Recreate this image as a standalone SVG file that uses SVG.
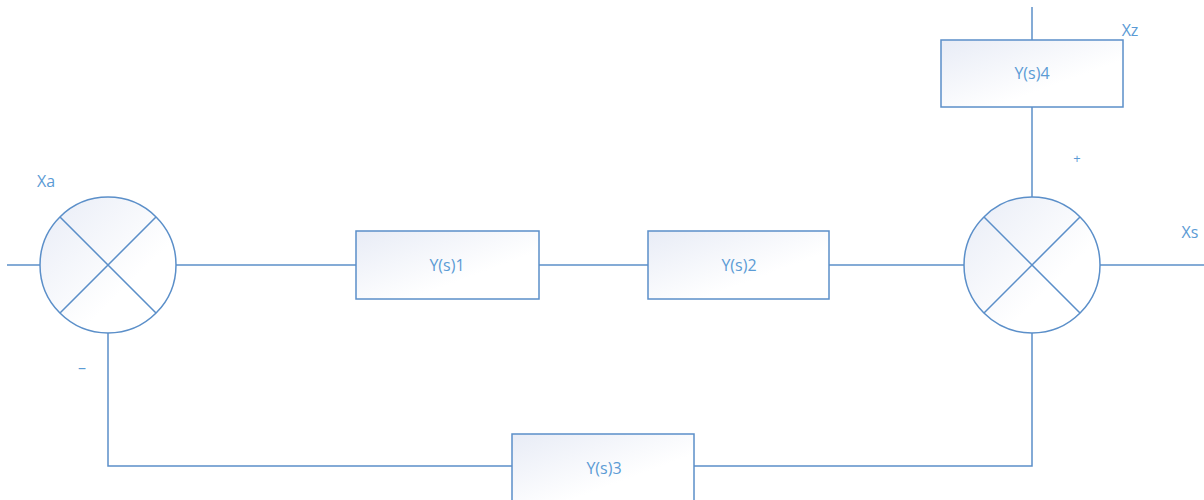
<svg xmlns="http://www.w3.org/2000/svg" width="1204" height="500" viewBox="0 0 1204 500">
<defs>
<linearGradient id="g" x1="0" y1="0" x2="1" y2="1">
<stop offset="0" stop-color="#e8ecf6"/>
<stop offset="0.65" stop-color="#ffffff"/>
</linearGradient>
<style>
.s{fill:url(#g);stroke:#5b8fc9;stroke-width:1.5}
.l{fill:none;stroke:#5b8fc9;stroke-width:1.5}
.t{font-family:"Open Sans","Liberation Sans",sans-serif;font-size:16px;fill:#5b9bd5;text-anchor:middle}
</style>
</defs>
<rect width="1204" height="500" fill="#ffffff"/>
<g id="connectors">
<path class="l" d="M7 265H40"/>
<path class="l" d="M176 265H356"/>
<path class="l" d="M539 265H648"/>
<path class="l" d="M829 265H964"/>
<path class="l" d="M1100 265H1204"/>
<path class="l" d="M1032 7V40"/>
<path class="l" d="M1032 107V197"/>
<path class="l" d="M108 333V466H512"/>
<path class="l" d="M1032 333V466H694"/>
</g>
<g id="sum1">
<circle class="s" cx="108" cy="265" r="68"/>
<path class="l" d="M60 217L156 313M156 217L60 313"/>
</g>
<g id="sum2">
<circle class="s" cx="1032" cy="265" r="68"/>
<path class="l" d="M984 217L1080 313M1080 217L984 313"/>
</g>
<g id="y1"><rect class="s" x="356" y="231" width="183" height="68"/><text class="t" x="447" y="271">Y(s)1</text></g>
<g id="y2"><rect class="s" x="648" y="231" width="181" height="68"/><text class="t" x="739" y="271">Y(s)2</text></g>
<g id="y3"><rect class="s" x="512" y="434" width="182" height="68"/><text class="t" x="604" y="474">Y(s)3</text></g>
<g id="y4"><rect class="s" x="941" y="40" width="182" height="67"/><text class="t" x="1032" y="79">Y(s)4</text></g>
<g id="labels">
<text class="t" x="46" y="187">Xa</text>
<text class="t" x="82" y="373">–</text>
<text class="t" x="1130" y="36">Xz</text>
<text class="t" x="1077" y="163" style="font-size:13px">+</text>
<text class="t" x="1190" y="238">Xs</text>
</g>
</svg>
